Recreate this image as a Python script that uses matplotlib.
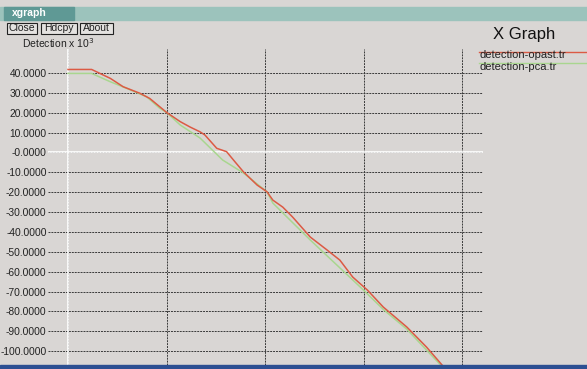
import matplotlib
matplotlib.use("Agg")
from matplotlib import pyplot as plt
from matplotlib.patches import Rectangle

plt.rcParams['font.family'] = ['Liberation Sans', 'DejaVu Sans']

# data (x in grid units, y in Detection x 10^3)
opast_x = [0.0, 0.24, 0.43, 0.56, 0.73, 0.83, 1.0, 1.14, 1.24, 1.34, 1.39, 1.51, 1.61,
           1.68, 1.78, 1.92, 2.02, 2.08, 2.18, 2.28, 2.46, 2.63, 2.76, 2.89, 3.04,
           3.20, 3.44, 3.64, 3.85]
opast_y = [41.8, 41.8, 37.3, 33.1, 29.8, 27.2, 20.2, 15.5, 12.8, 10.4, 8.8, 2.1, 0.4,
           -3.8, -9.7, -16.4, -19.8, -24.0, -27.5, -32.5, -42.6, -49.1, -54.2, -62.7, -69.3,
           -77.8, -87.9, -98.0, -110.0]
pca_x = [0.0, 0.24, 0.43, 0.60, 0.80, 0.93, 1.0, 1.14, 1.34, 1.57, 1.78, 2.02, 2.08,
         2.46, 3.0, 3.2, 3.44, 3.84]
pca_y = [39.8, 39.8, 35.6, 32.2, 28.0, 22.3, 20.2, 13.8, 7.3, -3.8, -10.3, -19.8, -25.5,
         -44.1, -69.3, -79.0, -89.0, -110.0]
labels = ["detection-opast.tr", "detection-pca.tr"]
colors = ["#dc5a44", "#a9d68f"]
y_ticks = list(range(40, -110, -10))
x_ticks = [0, 1, 2, 3, 4]

W, H = 587, 369
BG = "#d9d6d4"
fig = plt.figure(figsize=(W / 100, H / 100), dpi=100, facecolor=BG)

def fx(px):
    return px / W

def fy(py):
    return 1 - py / H

# plot area
ax = fig.add_axes([fx(48), fy(365), fx(483) - fx(48), fy(49) - fy(365)])
ax.set_facecolor(BG)
ax.set_xlim(-0.203, 4.213)
ax.set_ylim(-107.0, 52.1)
for s in ax.spines.values():
    s.set_visible(False)
ax.set_xticks(x_ticks)
ax.set_xticklabels([])
ax.set_yticks(y_ticks)
ax.set_yticklabels(["%.4f" % v if v != 0 else "-0.0000" for v in y_ticks])
ax.tick_params(length=0, pad=1, labelsize=7.4, labelcolor="#222222")
ax.grid(True, color="#3a3a3a", linestyle=(0, (2, 1)), linewidth=0.7)
ax.axhline(0, color="white", linewidth=1.2, zorder=2)
ax.axvline(0, color="white", linewidth=1.2, zorder=2)

ax.plot(pca_x, pca_y, color=colors[1], linewidth=1.1, zorder=3)
ax.plot(opast_x, opast_y, color=colors[0], linewidth=1.1, zorder=4)

# window decorations
fig.patches.append(Rectangle((0, fy(20)), 1, fy(7) - fy(20), transform=fig.transFigure,
                             color="#9cc3bc", zorder=5))
fig.patches.append(Rectangle((fx(4), fy(20)), fx(70), fy(7) - fy(20), transform=fig.transFigure,
                             color="#5f9995", zorder=6))
fig.text(fx(12), fy(13.5), "xgraph", color="white", fontsize=7.5, fontweight="bold",
         va="center", zorder=7)
fig.patches.append(Rectangle((0, 0), 1, fy(365), transform=fig.transFigure,
                             color="#2c4f92", zorder=8))

for name, x0, x1 in [("Close", 7, 37), ("Hdcpy", 41, 77), ("About", 80, 113)]:
    fig.patches.append(Rectangle((fx(x0), fy(33.5)), fx(x1 - x0), fy(22.5) - fy(33.5),
                                 transform=fig.transFigure, facecolor="#e4e2e0",
                                 edgecolor="#222222", linewidth=0.8, zorder=5))
    fig.text(fx((x0 + x1) / 2), fy(28), name, fontsize=7.5, ha="center", va="center",
             color="#222222", zorder=6)

fig.text(fx(22), fy(43), r"Detection x 10$^{3}$", fontsize=7.5, va="center", color="#222222")
fig.text(fx(493), fy(34), "X Graph", fontsize=12, va="center", color="#111111")

for i, (lab, col) in enumerate(zip(labels, colors)):
    y = 55.5 + 11 * i
    fig.lines.append(plt.Line2D([fx(479), fx(586)], [fy(y - 4), fy(y - 4)],
                                transform=fig.transFigure, color=col, linewidth=1.0))
    fig.text(fx(479), fy(y), lab, fontsize=8, va="center", color="#222222")

fig.savefig("out.png", dpi=100, facecolor=BG)
